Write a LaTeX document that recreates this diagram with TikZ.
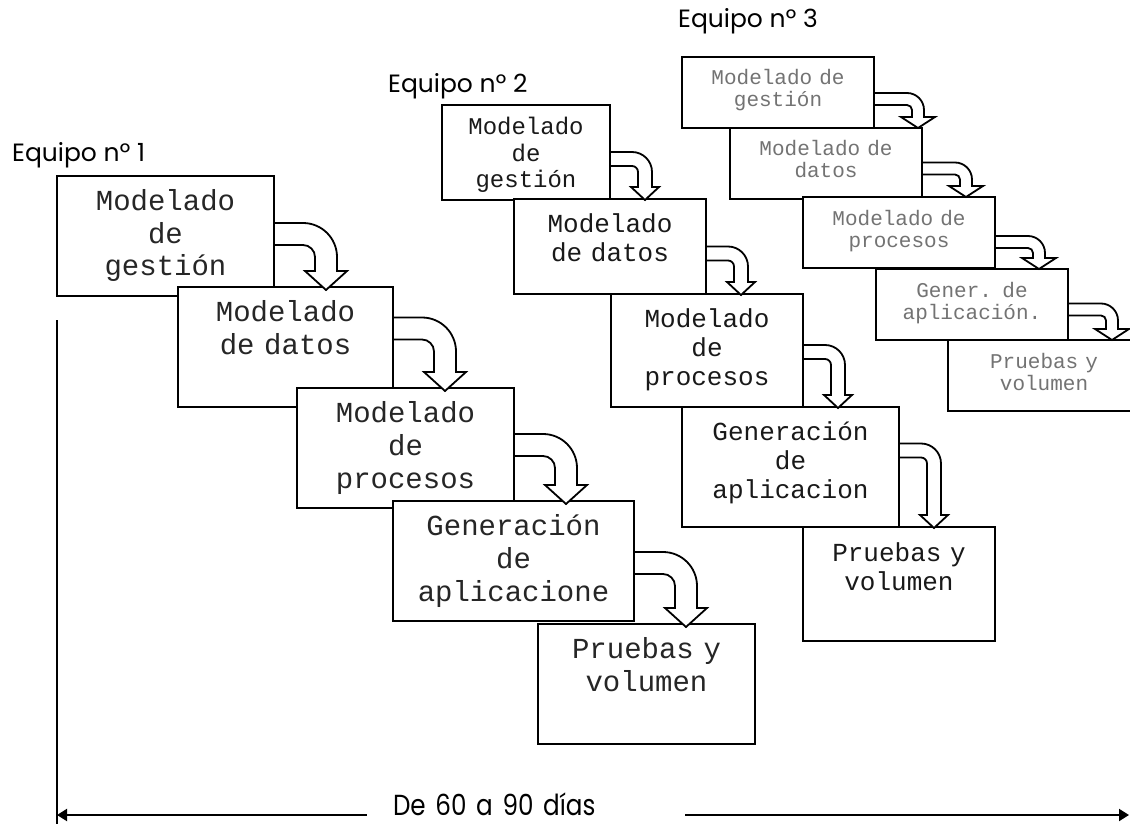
\documentclass[tikz,border=0pt]{standalone}
\usepackage{fontspec}
\usepackage{tikz}
\usetikzlibrary{calc,positioning,arrows.meta}
\newfontfamily\mono[WordSpace={1,0,0}]{Liberation Mono}
\newfontfamily\rotulo{Poppins}
\newfontfamily\rotuloest[FakeStretch=0.85]{Poppins}
\tikzset{
	fase/.style={draw,fill=white,line width=2pt,inner sep=0pt,outer sep=0pt,align=center},
	eq1/.style={fase,font=\mono\fontsize{29}{33}\selectfont,text=black!85,
		text width=217pt,text height=34pt,text depth=86pt},
	eq2/.style={fase,font=\mono\fontsize{26}{29}\selectfont,text=black!90,
		text width=192pt,text height=33pt,text depth=62pt},
	eq3/.style={fase,font=\mono\fontsize{21}{22}\selectfont,text=black!55,
		text width=192pt,text height=28pt,text depth=43pt},
	equipo/.style={font=\rotulo\fontsize{25}{29}\selectfont,inner sep=0pt,anchor=base west},
	dias/.style={fill=white,font=\rotuloest\fontsize{29}{33}\selectfont,text width=266pt,
		align=left,inner xsep=26pt,inner ysep=4pt,anchor=base},
	giro/.style={draw,fill=white,line width=1.8pt},
	giro1/.code={\def\girod{52pt}\def\girow{11pt}\def\giroh{21pt}\def\girol{19pt}\def\giror{23pt}\def\girop{3pt}},
	giro2/.code={\def\girod{35pt}\def\girow{7pt}\def\giroh{14pt}\def\girol{13pt}\def\giror{13pt}\def\girop{1pt}},
	giro3/.code={\def\girod{44pt}\def\girow{6pt}\def\giroh{17pt}\def\girol{11pt}\def\giror{11pt}\def\girop{0pt}}
}
\newcommand{\flecha}[4]{%
	\path[giro,#1] let \p1=([yshift=#4pt]#2.east), \p2=(#3.north) in
		({\x1+1pt},{\y1+\girow}) -- ({\x1+\girod-\giror},{\y1+\girow})
		arc[start angle=90,end angle=0,radius={\giror+\girow}]
		-- ({\x1+\girod+\girow},{\y2-\girop+\girol})
		-- ({\x1+\girod+\giroh},{\y2-\girop+\girol})
		-- ({\x1+\girod},{\y2-\girop})
		-- ({\x1+\girod-\giroh},{\y2-\girop+\girol})
		-- ({\x1+\girod-\girow},{\y2-\girop+\girol})
		-- ({\x1+\girod-\girow},{\y1-\giror})
		arc[start angle=0,end angle=90,radius={\giror-\girow}]
		-- ({\x1+1pt},{\y1-\girow});
}

\begin{document}
\begin{tikzpicture}[x=1pt,y=1pt,>={Triangle[width=12pt,length=10pt]}]
\useasboundingbox (0,0) rectangle (1130,-824);

\node[eq1,anchor=north west] (t1a) at (57,-176) {Modelado\\de\\gestión};
\node[eq1,text width=215pt,below right=-9pt and -96pt of t1a] (t1b) {Modelado\\de datos};
\node[eq1,below right=-19pt and -96pt of t1b] (t1c) {Modelado\\de\\procesos};
\node[eq1,text width=241pt,below right=-7pt and -121pt of t1c] (t1d) {Generación\\de\\aplicacione};
\node[eq1,below right=3pt and -96pt of t1d] (t1e) {Pruebas y\\volumen};

\node[eq2,font=\mono\fontsize{24}{26.5}\selectfont,text width=168pt,text height=30pt,
	text depth=65pt,anchor=north west] (t2a) at (442,-105) {Modelado\\de\\gestión};
\node[eq2,below right=-1pt and -96pt of t2a] (t2b) {Modelado\\de datos};
\node[eq2,text depth=80pt,below right=0pt and -95pt of t2b] (t2c) {Modelado\\de\\procesos};
\node[eq2,text width=217pt,text depth=87pt,below right=0pt and -121pt of t2c] (t2d) {Generación\\de\\aplicacion};
\node[eq2,text height=34pt,text depth=80pt,below right=0pt and -96pt of t2d] (t2e) {Pruebas y\\volumen};

\node[eq3,anchor=north west] (t3a) at (682,-57) {Modelado de\\gestión};
\node[eq3,below right=0pt and -144pt of t3a] (t3b) {Modelado de\\datos};
\node[eq3,below right=-2pt and -119pt of t3b] (t3c) {Modelado de\\procesos};
\node[eq3,below right=1pt and -119pt of t3c] (t3d) {Gener. de\\aplicación.};
\node[eq3,below right=0pt and -120pt of t3d] (t3e) {Pruebas y\\volumen};

\node[equipo] (e1) at ([xshift=-45pt,yshift=14pt]t1a.north west) {Equipo nº 1};
\node[equipo] (e2) at ([xshift=-54pt,yshift=12pt]t2a.north west) {Equipo nº 2};
\node[equipo] (e3) at ([xshift=-4pt,yshift=29pt]t3a.north west) {Equipo nº 3};

\flecha{giro1}{t1a}{t1b}{2}
\flecha{giro1}{t1b}{t1c}{18.5}
\flecha{giro1}{t1c}{t1d}{3}
\flecha{giro1}{t1d}{t1e}{-2}
\flecha{giro2}{t2a}{t2b}{-6.5}
\flecha{giro2}{t2b}{t2c}{-7}
\flecha{giro2}{t2c}{t2d}{-1.5}
\flecha{giro2}{t2d}{t2e}{16.5}
\flecha{giro3}{t3a}{t3b}{-6.5}
\flecha{giro3}{t3b}{t3c}{-5}
\flecha{giro3}{t3c}{t3d}{-9.5}
\flecha{giro3}{t3d}{t3e}{-5}

\coordinate (izq) at (57,-815);
\coordinate (der) at (1129,-815);
\coordinate (pie) at (57,-824);
\draw[line width=2pt] ([yshift=-24pt]t1a.south west) -- (pie);
\draw[<->,line width=2pt] (izq) -- node[dias,pos=0.4375] {De 60 a 90 días} (der);

\end{tikzpicture}
\end{document}
